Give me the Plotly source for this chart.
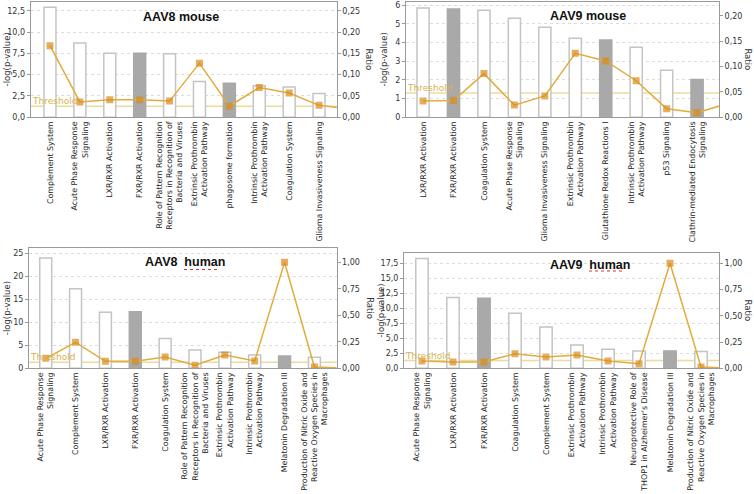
import plotly.graph_objects as go

# ---------------- DATA ----------------
THRESHOLD = 1.3  # -log10(0.05)

aav8_mouse_pathways = [
    "Complement System", "Acute Phase Response<br>Signaling", "LXR/RXR Activation",
    "FXR/RXR Activation", "Role of Pattern Recognition<br>Receptors in Recognition of<br>Bacteria and Viruses",
    "Extrinsic Prothrombin<br>Activation Pathway", "phagosome formation",
    "Intrinsic Prothrombin<br>Activation Pathway", "Coagulation System", "Glioma Invasiveness Signaling",
]
aav8_mouse_logp = [12.9, 8.7, 7.5, 7.5, 7.45, 4.2, 4.0, 3.7, 3.55, 2.8]
aav8_mouse_ratio = [0.168, 0.036, 0.041, 0.041, 0.038, 0.127, 0.026, 0.070, 0.057, 0.028, 0.020]
aav8_mouse_shaded = [False, False, False, True, False, False, True, False, False, False]

aav9_mouse_pathways = [
    "LXR/RXR Activation", "FXR/RXR Activation", "Coagulation System",
    "Acute Phase Response<br>Signaling", "Glioma Invasiveness Signaling",
    "Extrinsic Prothrombin<br>Activation Pathway", "Glutathione Redox Reactions I",
    "Intrinsic Prothrombin<br>Activation Pathway", "p53 Signaling",
    "Clathrin-mediated Endocytosis<br>Signaling",
]
aav9_mouse_logp = [5.85, 5.8, 5.73, 5.3, 4.82, 4.23, 4.14, 3.75, 2.52, 2.03]
aav9_mouse_ratio = [0.032, 0.033, 0.086, 0.024, 0.042, 0.126, 0.111, 0.072, 0.017, 0.009, 0.027]
aav9_mouse_shaded = [False, True, False, False, False, False, True, False, False, True]

aav8_human_pathways = [
    "Acute Phase Response<br>Signaling", "Complement System", "LXR/RXR Activation",
    "FXR/RXR Activation", "Coagulation System",
    "Role of Pattern Recognition<br>Receptors in Recognition of<br>Bacteria and Viruses",
    "Extrinsic Prothrombin<br>Activation Pathway", "Intrinsic Prothrombin<br>Activation Pathway",
    "Melatonin Degradation III",
    "Production of Nitric Oxide and<br>Reactive Oxygen Species in<br>Macrophages",
]
aav8_human_logp = [24.0, 17.3, 12.2, 12.3, 6.5, 4.0, 3.5, 2.9, 2.7, 2.4]
aav8_human_ratio = [0.094, 0.245, 0.066, 0.066, 0.107, 0.028, 0.125, 0.069, 1.0, 0.012, 0.004]
aav8_human_shaded = [False, False, False, True, False, False, False, False, True, False]

aav9_human_pathways = [
    "Acute Phase Response<br>Signaling", "LXR/RXR Activation", "FXR/RXR Activation",
    "Coagulation System", "Complement System",
    "Extrinsic Prothrombin<br>Activation Pathway", "Intrinsic Prothrombin<br>Activation Pathway",
    "Neuroprotective Role of<br>THOP1 in Alzheimer's Disease", "Melatonin Degradation III",
    "Production of Nitric Oxide and<br>Reactive Oxygen Species in<br>Macrophages",
]
aav9_human_logp = [18.3, 11.8, 11.67, 9.17, 6.9, 3.9, 3.17, 2.9, 2.9, 2.78]
aav9_human_ratio = [0.070, 0.060, 0.060, 0.139, 0.108, 0.127, 0.070, 0.044, 1.0, 0.013, 0.0]
aav9_human_shaded = [False, False, True, False, False, False, False, False, True, False]

titles = ["AAV8 mouse", "AAV9 mouse", "AAV8  human", "AAV9  human"]

# ---------------- LAYOUT GEOMETRY ----------------
W, H = 754, 494

def fx(px):
    return px / W

def fy(py):
    return 1 - py / H

panels = [
    dict(title=titles[0], cats=aav8_mouse_pathways, logp=aav8_mouse_logp, ratio=aav8_mouse_ratio,
         shaded=aav8_mouse_shaded, xpx=(30.7, 336.7), ypx=(1.5, 117.3), xr=(-0.645, 9.59),
         yr=13.58, y2r=0.2716, dtick=2.5, fmt=".1f", dtick2=0.05,
         title_xy=(181, 17), ylab_x=7, ratio_x=369),
    dict(title=titles[1], cats=aav9_mouse_pathways, logp=aav9_mouse_logp, ratio=aav9_mouse_ratio,
         shaded=aav9_mouse_shaded, xpx=(406, 719), ypx=(1.5, 117.3), xr=(-0.56, 9.72),
         yr=6.2, y2r=0.228, dtick=1, fmt="d", dtick2=0.05,
         title_xy=(588, 16), ylab_x=384, ratio_x=748),
    dict(title=titles[2], cats=aav8_human_pathways, logp=aav8_human_logp, ratio=aav8_human_ratio,
         shaded=aav8_human_shaded, xpx=(29, 336.5), ypx=(248, 368.3), xr=(-0.56, 9.74),
         yr=26.15, y2r=1.135, dtick=5, fmt="d", dtick2=0.25,
         title_xy=(185, 262), ylab_x=7, ratio_x=370),
    dict(title=titles[3], cats=aav9_human_pathways, logp=aav9_human_logp, ratio=aav9_human_ratio,
         shaded=aav9_human_shaded, xpx=(404, 719), ypx=(252.7, 368.3), xr=(-0.58, 9.58),
         yr=19.27, y2r=1.10, dtick=2.5, fmt=".1f", dtick2=0.25,
         title_xy=(589.5, 265), ylab_x=380, ratio_x=748),
]

FONT = "DejaVu Sans, Verdana, sans-serif"
AXIS_COL = "#9a9a9a"
GRID_COL = "#dcdcdc"
BAR_EDGE = "#c4c4c4"
BAR_GREY = "#a9a9a9"
LINE_COL = "#e2ac3c"
MARK_COL = "#d98c1a"
THR_COL = "#ecdc9c"
THR_TXT = "#d6b44a"

fig = go.Figure()
layout = dict(
    template="none",
    width=W, height=H, margin=dict(l=0, r=0, t=0, b=0, pad=0),
    paper_bgcolor="white", plot_bgcolor="white", showlegend=False,
    separators=", ", font=dict(family=FONT, size=8.5, color="#333333"),
)
shapes, annotations = [], []

for i, p in enumerate(panels):
    n = i + 1
    xa = "x" if n == 1 else f"x{n}"
    ya_l = 2 * n - 1
    ya_r = 2 * n
    yl = "y" if ya_l == 1 else f"y{ya_l}"
    yr = f"y{ya_r}"
    xs = list(range(len(p["cats"])))
    xr_all = list(range(len(p["ratio"])))

    fig.add_trace(go.Bar(
        x=xs, y=p["logp"], xaxis=xa, yaxis=yl, width=0.4,
        marker=dict(color=[BAR_GREY if s else "white" for s in p["shaded"]],
                    line=dict(color=[BAR_GREY if s else BAR_EDGE for s in p["shaded"]], width=1.5)),
    ))
    fig.add_trace(go.Scatter(
        x=xr_all, y=p["ratio"], xaxis=xa, yaxis=yr, mode="lines+markers",
        line=dict(color=LINE_COL, width=1.5),
        marker=dict(symbol="square", size=[7] * len(p["cats"]) + [0] * (len(p["ratio"]) - len(p["cats"])),
                    color=MARK_COL, line=dict(width=0)),
    ))

    xdom = [fx(p["xpx"][0]), fx(p["xpx"][1])]
    ydom = [fy(p["ypx"][1]), fy(p["ypx"][0])]
    xkey = "xaxis" if n == 1 else f"xaxis{n}"
    layout[xkey] = dict(
        domain=xdom, anchor=yl, range=list(p["xr"]), tickmode="array", tickvals=xs,
        ticktext=p["cats"], tickangle=-90, showline=True, linecolor=AXIS_COL, mirror=True,
        ticks="", showgrid=False, zeroline=False, tickfont=dict(size=7.9, color="#222222"),
        automargin=False, fixedrange=True,
    )
    layout["yaxis" if ya_l == 1 else f"yaxis{ya_l}"] = dict(
        domain=ydom, anchor=xa, range=[0, p["yr"]], dtick=p["dtick"], tick0=0,
        tickformat=p["fmt"], showline=True, linecolor=AXIS_COL, ticks="outside", ticklen=3,
        tickcolor=AXIS_COL, showgrid=True, gridcolor=GRID_COL, griddash="dot", gridwidth=1,
        zeroline=False, tickfont=dict(size=8, color="#333333"), automargin=False,
    )
    layout[f"yaxis{ya_r}"] = dict(
        overlaying=yl, side="right", anchor=xa, range=[0, p["y2r"]], dtick=p["dtick2"], tick0=0,
        tickformat=".2f", showline=True, linecolor=AXIS_COL, ticks="outside", ticklen=3,
        tickcolor=AXIS_COL, showgrid=False, zeroline=False, tickfont=dict(size=8, color="#333333"),
        automargin=False,
    )

    shapes.append(dict(type="line", xref=f"{xa} domain", yref=yl, x0=0, x1=1,
                       y0=THRESHOLD, y1=THRESHOLD, line=dict(color=THR_COL, width=1.5), layer="below"))
    annotations.append(dict(text="Threshold", xref=f"{xa} domain", yref=yl, x=0, y=THRESHOLD,
                            xanchor="left", yanchor="bottom", showarrow=False, xshift=-1, yshift=-2,
                            font=dict(size=9, color=THR_TXT)))
    annotations.append(dict(text=f"<b>{p['title']}</b>", xref="paper", yref="paper",
                            x=fx(p["title_xy"][0]), y=fy(p["title_xy"][1]), xanchor="center",
                            yanchor="middle", showarrow=False,
                            font=dict(family="Liberation Sans, Arial, sans-serif", size=12.5, color="#111111")))
    ymid = fy((p["ypx"][0] + p["ypx"][1]) / 2)
    annotations.append(dict(text="-log(p-value)", xref="paper", yref="paper", x=fx(p["ylab_x"]),
                            y=ymid, textangle=-90, showarrow=False, xanchor="center", yanchor="middle",
                            font=dict(size=8.5, color="#333333")))
    annotations.append(dict(text="Ratio", xref="paper", yref="paper", x=fx(p["ratio_x"]),
                            y=ymid, textangle=90, showarrow=False, xanchor="center", yanchor="middle",
                            font=dict(size=8.5, color="#333333")))

# spell-check style red underline under "human"
for (x0, x1, y) in [(184, 220, 269.5), (589, 625, 271)]:
    shapes.append(dict(type="line", xref="paper", yref="paper", x0=fx(x0), x1=fx(x1),
                       y0=fy(y), y1=fy(y), line=dict(color="#e03030", width=1, dash="dot")))

layout["shapes"] = shapes
layout["annotations"] = annotations
fig.update_layout(**layout)
fig.write_html("out.html", config={"displayModeBar": False},
               post_script="document.body.style.margin='0px';document.body.style.padding='0px';")
